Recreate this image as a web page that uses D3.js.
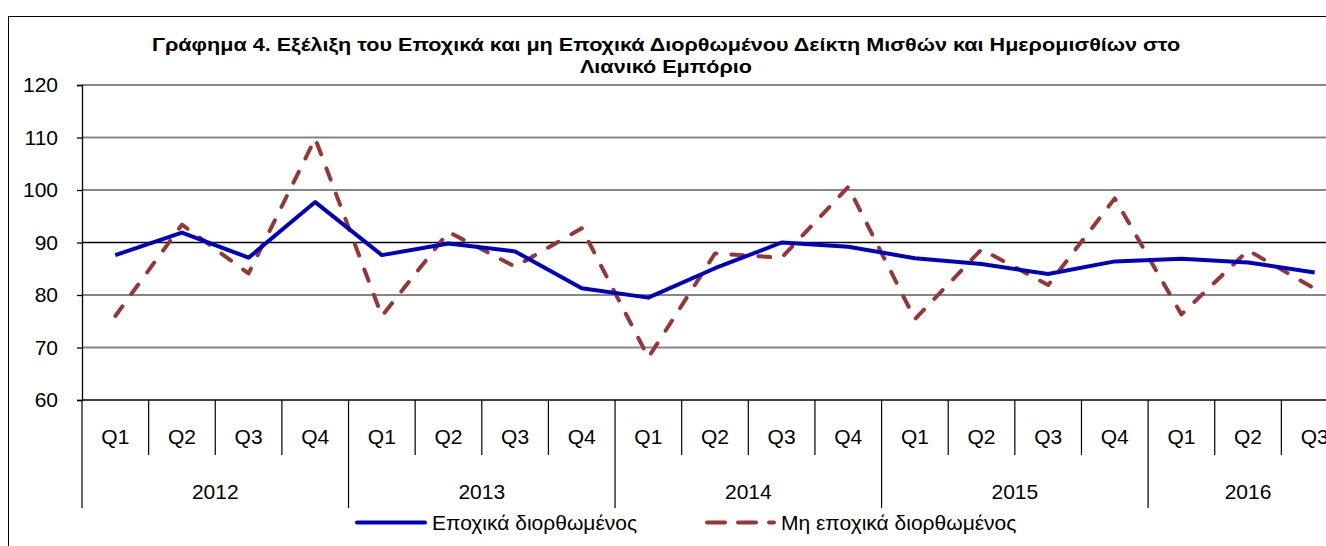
<!DOCTYPE html>
<html>
<head>
<meta charset="utf-8">
<script src="https://cdn.jsdelivr.net/npm/d3@7"></script>
<style>
  html, body { margin: 0; padding: 0; background: #fff; overflow: hidden; }
  svg { display: block; font-family: "Liberation Sans", Arial, sans-serif; }
</style>
</head>
<body>
<svg id="chart" width="1326" height="546"></svg>
<script>
const years = ["2012", "2013", "2014", "2015", "2016"];
const quarters = ["Q1","Q2","Q3","Q4","Q1","Q2","Q3","Q4","Q1","Q2","Q3","Q4","Q1","Q2","Q3","Q4","Q1","Q2","Q3"];
const seasonallyAdjusted = [87.6, 91.9, 87.1, 97.7, 87.6, 89.8, 88.3, 81.3, 79.5, 85.1, 90.0, 89.2, 87.0, 85.9, 84.0, 86.4, 86.9, 86.2, 84.3];
const notAdjusted = [76.0, 93.4, 84.1, 109.8, 76.0, 92.0, 85.4, 92.7, 68.1, 87.9, 87.1, 100.6, 75.4, 88.7, 81.9, 98.4, 76.3, 88.5, 81.2];
const yTicks = [60, 70, 80, 90, 100, 110, 120];
const titleLines = ["Γράφημα 4. Εξέλιξη του Εποχικά και μη Εποχικά Διορθωμένου Δείκτη Μισθών και Ημερομισθίων στο", "Λιανικό Εμπόριο"];
const seriesNames = ["Εποχικά διορθωμένος", "Μη εποχικά διορθωμένος"];

(function () {
const svg = d3.select("#chart");
const pLeft = 82, pRight = 1348, pTop = 85, pBottom = 400;
const fontSize = 21;

// outer frame
svg.append("rect").attr("x", 8.5).attr("y", 16.5).attr("width", 1400).attr("height", 700)
  .attr("fill", "#fff").attr("stroke", "#000").attr("stroke-width", 1);

const idx = d3.range(quarters.length);
const x = d3.scaleBand().domain(idx).range([pLeft, pRight]).padding(0);
const y = d3.scaleLinear().domain([60, 120]).range([pBottom, pTop]);

// gridlines
svg.append("g").selectAll("line").data(yTicks.filter(d => d !== 60)).join("line")
  .attr("x1", pLeft).attr("x2", pRight)
  .attr("y1", d => y(d)).attr("y2", d => y(d))
  .attr("stroke", d => d === 90 ? "#000" : "#868686")
  .attr("stroke-width", d => d === 90 ? 1.3 : 2);

// y axis
const yAxis = d3.axisLeft(y).tickValues(yTicks).tickSize(5).tickPadding(19);
const gy = svg.append("g").attr("transform", `translate(${pLeft},0)`).call(yAxis);
gy.select(".domain").attr("stroke", "#000").attr("stroke-width", 1.3);
gy.selectAll(".tick line").attr("stroke", "#000").attr("stroke-width", 1.3);
gy.selectAll(".tick text").attr("font-size", fontSize).attr("fill", "#000")
  .attr("font-family", "Liberation Sans, Arial, sans-serif");

// x axis baseline
svg.append("line").attr("x1", pLeft).attr("x2", pRight).attr("y1", pBottom).attr("y2", pBottom)
  .attr("stroke", "#000").attr("stroke-width", 1.3);

// category separators
const bounds = d3.range(quarters.length + 1);
svg.append("g").selectAll("line").data(bounds).join("line")
  .attr("x1", d => pLeft + d * x.bandwidth()).attr("x2", d => pLeft + d * x.bandwidth())
  .attr("y1", pBottom)
  .attr("y2", d => (d % 4 === 0) ? 508 : 455)
  .attr("stroke", "#000").attr("stroke-width", 1.2);

// quarter labels
svg.append("g").selectAll("text").data(idx).join("text")
  .attr("x", d => x(d) + x.bandwidth() / 2).attr("y", 444)
  .attr("text-anchor", "middle").attr("font-size", fontSize).attr("fill", "#000")
  .text(d => quarters[d]);

// year labels (centred over the quarters each year actually has)
svg.append("g").selectAll("text").data(years).join("text")
  .attr("x", (d, i) => {
    const first = i * 4, last = Math.min(i * 4 + 3, quarters.length - 1);
    return (x(first) + x(last) + x.bandwidth()) / 2;
  })
  .attr("y", 498.5)
  .attr("text-anchor", "middle").attr("font-size", fontSize).attr("fill", "#000")
  .text(d => d);

// lines
const line = d3.line().x((d, i) => x(i) + x.bandwidth() / 2).y(d => y(d));
svg.append("path").datum(notAdjusted).attr("d", line)
  .attr("fill", "none").attr("stroke", "#953735").attr("stroke-width", 4)
  .attr("stroke-dasharray", "12,15").attr("stroke-linecap", "round").attr("stroke-linejoin", "round");
svg.append("path").datum(seasonallyAdjusted).attr("d", line)
  .attr("fill", "none").attr("stroke", "#0000C0").attr("stroke-width", 4)
  .attr("stroke-linejoin", "round");

// title
svg.append("g").selectAll("text").data(titleLines).join("text")
  .attr("transform", (d, i) => `translate(666,${50.5 + i * 22.3}) scale(1.2,1)`)
  .attr("text-anchor", "middle").attr("font-size", 18).attr("font-weight", "bold").attr("fill", "#000")
  .text(d => d);

// legend
const lg = svg.append("g");
lg.append("line").attr("x1", 357).attr("x2", 425).attr("y1", 522.5).attr("y2", 522.5)
  .attr("stroke", "#0000C0").attr("stroke-width", 4).attr("stroke-linecap", "round");
lg.append("text").attr("x", 432).attr("y", 530).attr("font-size", fontSize).attr("fill", "#000").text(seriesNames[0]);
lg.append("line").attr("x1", 707).attr("x2", 774).attr("y1", 522.5).attr("y2", 522.5)
  .attr("stroke", "#953735").attr("stroke-width", 4).attr("stroke-linecap", "round")
  .attr("stroke-dasharray", "18,13");
lg.append("text").attr("x", 781).attr("y", 530).attr("font-size", fontSize).attr("fill", "#000").text(seriesNames[1]);
})();
</script>
</body>
</html>
